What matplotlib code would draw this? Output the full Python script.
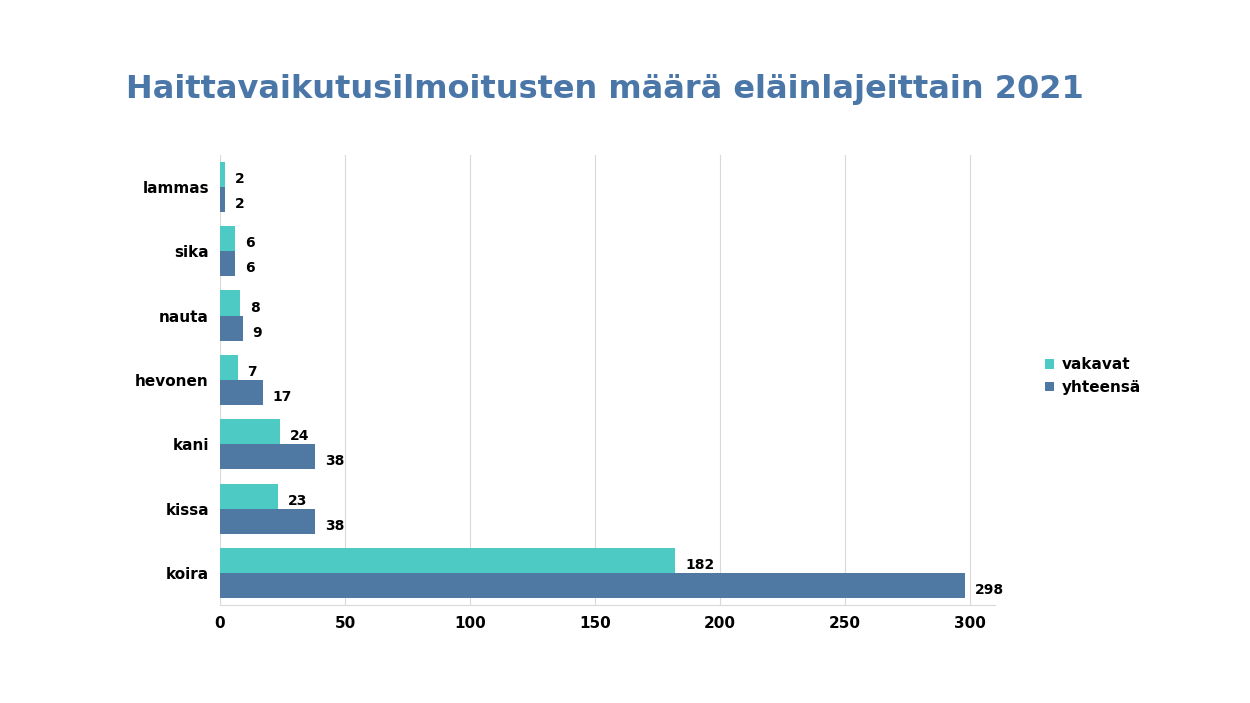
import numpy as np
import matplotlib.pyplot as plt

categories = ["koira", "kissa", "kani", "hevonen", "nauta", "sika", "lammas"]
vakavat = [182, 23, 24, 7, 8, 6, 2]
yhteensa = [298, 38, 38, 17, 9, 6, 2]
xticks = [0, 50, 100, 150, 200, 250, 300]

teal = "#4ecac4"
blue = "#4f79a2"

fig = plt.figure(figsize=(12.5, 7.03), dpi=100)
ax = fig.add_axes([0.176, 0.139, 0.62, 0.641])

y = np.arange(len(categories))
h = 0.39
b1 = ax.barh(y + h / 2, vakavat, height=h, color=teal, label="vakavat")
b2 = ax.barh(y - h / 2, yhteensa, height=h, color=blue, label="yhteensä")
for bars in (b1, b2):
    for r in bars:
        ax.text(r.get_width() + 4, r.get_y() + r.get_height() / 2 - 0.07,
                str(int(r.get_width())), va="center", ha="left",
                fontsize=10, fontweight="bold")

ax.set_yticks(y)
ax.set_yticklabels(categories, fontsize=11, fontweight="bold")
ax.set_xticks(xticks)
ax.set_xticklabels([str(t) for t in xticks], fontsize=11, fontweight="bold")
ax.set_xlim(0, 310)
ax.set_ylim(-0.5, len(categories) - 0.5)
ax.grid(axis="x", color="#d9d9d9", linewidth=0.8)
ax.set_axisbelow(True)
for s in ("top", "right", "left"):
    ax.spines[s].set_visible(False)
ax.spines["bottom"].set_color("#d9d9d9")
ax.tick_params(axis="both", length=0, pad=8)

fig.text(0.484, 0.872, "Haittavaikutusilmoitusten määrä eläinlajeittain 2021",
         ha="center", va="center", fontsize=23, fontweight="bold", color="#4a76a8")

fig.legend(handles=[b1, b2], loc="center left", bbox_to_anchor=(0.825, 0.465),
           frameon=False, prop={"size": 11, "weight": "bold"},
           handlelength=0.6, handleheight=0.6, handletextpad=0.5)

fig.savefig("out.png", dpi=100)
